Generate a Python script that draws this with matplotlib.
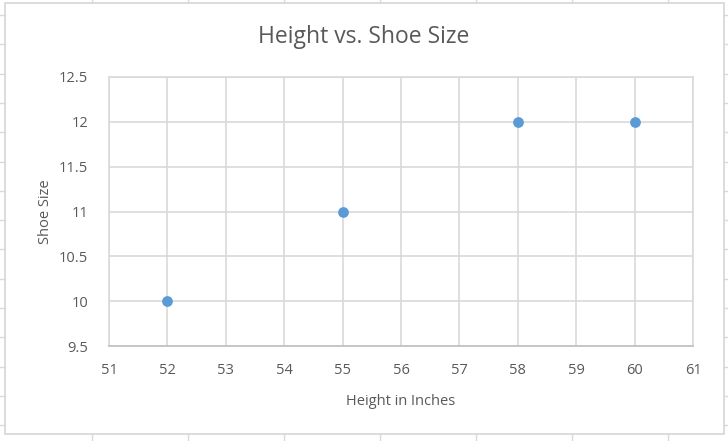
import matplotlib.pyplot as plt
from matplotlib.lines import Line2D
from matplotlib.patches import Rectangle
import numpy as np

# data
heights = [52, 55, 58, 60]
shoe_sizes = [10, 11, 12, 12]
x_ticks = list(range(51, 62))
y_ticks = [9.5, 10, 10.5, 11, 11.5, 12, 12.5]
y_labels = ['9.5', '10', '10.5', '11', '11.5', '12', '12.5']

W, H = 728, 441
grid_col = '#D9D9D9'
text_col = '#595959'
plt.rcParams['font.family'] = ['Open Sans', 'DejaVu Sans']

fig = plt.figure(figsize=(W / 100, H / 100), dpi=100)
fig.patch.set_facecolor('white')

def px(x, y):
    return x / W, 1 - y / H

# spreadsheet cell stubs around the chart
for cx in range(92, W, 96):
    fig.add_artist(Line2D([cx / W, cx / W], [1, 1 - 3 / H], color=grid_col, lw=1))
    fig.add_artist(Line2D([cx / W, cx / W], [1 - 434 / H, 0], color=grid_col, lw=1))
for ry in np.arange(15, H, 29.3):
    fig.add_artist(Line2D([0, 5 / W], [1 - ry / H] * 2, color=grid_col, lw=1))
    fig.add_artist(Line2D([724 / W, 1], [1 - ry / H] * 2, color=grid_col, lw=1))

# chart border
x0, y0 = px(5, 434)
fig.add_artist(Rectangle((x0, y0), (724 - 5) / W, (434 - 3) / H, transform=fig.transFigure,
                         fill=False, edgecolor=grid_col, lw=1.3))

left, top, right, bottom = 109, 77, 693, 346
ax = fig.add_axes([left / W, 1 - bottom / H, (right - left) / W, (bottom - top) / H])
ax.scatter(heights, shoe_sizes, s=60, color='#5B9BD5', zorder=3, linewidths=0)
ax.set_xlim(51, 61)
ax.set_ylim(9.5, 12.5)
ax.set_xticks(x_ticks)
ax.set_yticks(y_ticks)
ax.set_yticklabels(y_labels)
ax.grid(True, color=grid_col, lw=1.2)
for s in ax.spines.values():
    s.set_color(grid_col)
    s.set_linewidth(1.2)
ax.spines['bottom'].set_color('#BFBFBF')
ax.tick_params(length=0, colors=text_col, labelsize=10.5)
ax.tick_params(axis='y', pad=15)
ax.tick_params(axis='x', pad=12)
ax.set_xlabel('Height in Inches', color=text_col, fontsize=10.5, labelpad=12)
ax.set_ylabel('Shoe Size', color=text_col, fontsize=10.5, labelpad=4)

fig.text(364 / W, 1 - 37 / H, 'Height vs. Shoe Size', ha='center', va='center',
         color=text_col, fontsize=16.5)

fig.savefig('out.png', dpi=100)
